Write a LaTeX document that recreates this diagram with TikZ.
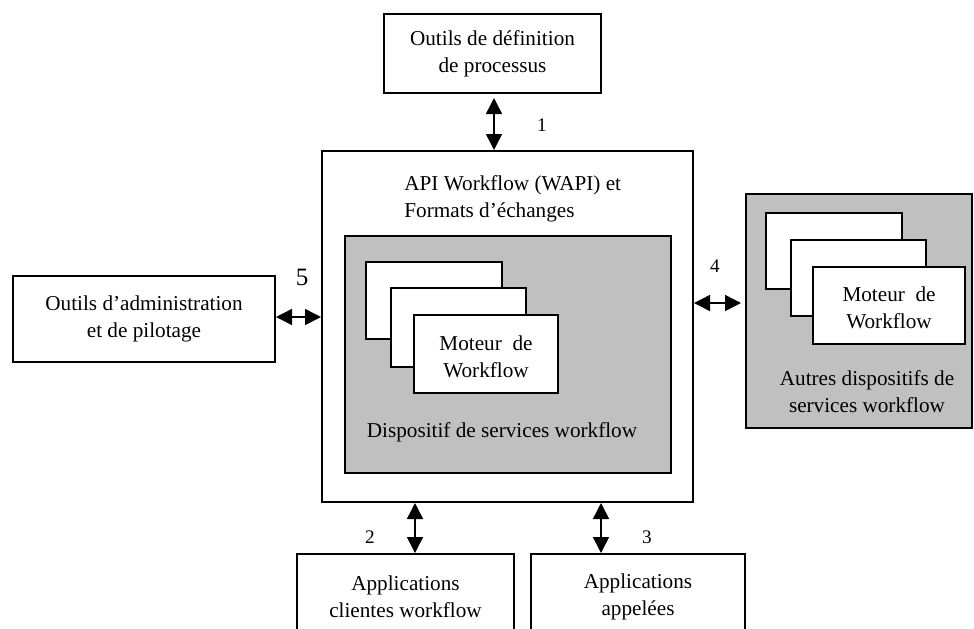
\documentclass[tikz,border=0pt]{standalone}
\usepackage{fontspec}
\setmainfont{Liberation Serif}
\usetikzlibrary{arrows.meta}
\definecolor{panelgrey}{RGB}{192,192,192}
\begin{document}
\begin{tikzpicture}[x=0.5pt,y=-0.5pt,
  every node/.style={font=\fontsize{10.6pt}{13.5pt}\selectfont, text=black},
  box/.style={draw=black, line width=1pt, fill=white, rectangle, inner sep=0pt, align=center},
  panel/.style={box, fill=panelgrey},
  txt/.style={inner sep=0pt, align=center},
  num/.style={inner sep=0pt, font=\fontsize{9.6pt}{11pt}\selectfont},
  biarrow/.style={line width=0.75pt, {Triangle[length=8pt,width=8pt]}-{Triangle[length=8pt,width=8pt]}}
]
\useasboundingbox (0,0) rectangle (974,628);
\clip (0,0) rectangle (974,628);

% process definition tools
\node[box, minimum width=108.5pt, minimum height=39.5pt] (defn) at (492.5,53.5)
  {Outils de définition\\de processus};

% central enactment service with its API
\node[box, minimum width=185.5pt, minimum height=175.5pt] (main) at (507.5,326.5) {};
\node[txt, anchor=west, align=left] (api) at (404,199)
  {API Workflow (WAPI) et\\Formats d’échanges};
\node[panel, minimum width=163pt, minimum height=118.5pt] (svc) at (508,354.5) {};
\node[box, minimum width=68pt, minimum height=38.5pt] (engA) at (434,300.5) {};
\node[box, minimum width=67.5pt, minimum height=39.5pt] (engB) at (458.5,327.5) {};
\node[box, minimum width=72pt, minimum height=39pt] (engC) at (486,354) {};
\node[txt] (engCt) at (486,357) {Moteur~~de\\Workflow};
\node[txt] (svct) at (502,432) {Dispositif de services workflow};

% other enactment services
\node[panel, minimum width=113pt, minimum height=117pt] (other) at (859,311) {};
\node[box, minimum width=68pt, minimum height=38pt] (oengA) at (834,251) {};
\node[box, minimum width=67.5pt, minimum height=38pt] (oengB) at (858.5,278) {};
\node[box, minimum width=76pt, minimum height=38.5pt] (oengC) at (889,305.5) {};
\node[txt] (oengCt) at (889,308) {Moteur~~de\\Workflow};
\node[txt] (othert) at (867,392) {Autres dispositifs de\\services workflow};

% administration and monitoring tools
\node[box, minimum width=131pt, minimum height=43pt] (admin) at (144,319)
  {Outils d’administration\\et de pilotage};

% client and invoked applications
\node[box, minimum width=108.5pt, minimum height=43pt] (client) at (405.5,597)
  {Applications\\clientes workflow};
\node[box, minimum width=107pt, minimum height=43pt] (invoked) at (638,597)
  {Applications\\appelées};

% interface connectors
\coordinate (i1) at (494,0);
\coordinate (i2) at (415,0);
\coordinate (i3) at (601,0);
\coordinate (i4) at (0,303);
\coordinate (i5) at (0,317);
\draw[biarrow, shorten <=2pt] (defn.south -| i1) -- (main.north -| i1);
\draw[biarrow] (main.south -| i2) -- (client.north -| i2);
\draw[biarrow] (main.south -| i3) -- (invoked.north -| i3);
\draw[biarrow, shorten >=2pt] (main.east |- i4) -- (other.west |- i4);
\draw[biarrow] (admin.east |- i5) -- (main.west |- i5);

% interface numbers
\node[num] (n1) at (542,125) {1};
\node[num] (n2) at (370,537) {2};
\node[num] (n3) at (647,537) {3};
\node[num] (n4) at (715,266) {4};
\node[num, font=\fontsize{12.5pt}{14pt}\selectfont] (n5) at (302,277) {5};
\end{tikzpicture}
\end{document}
